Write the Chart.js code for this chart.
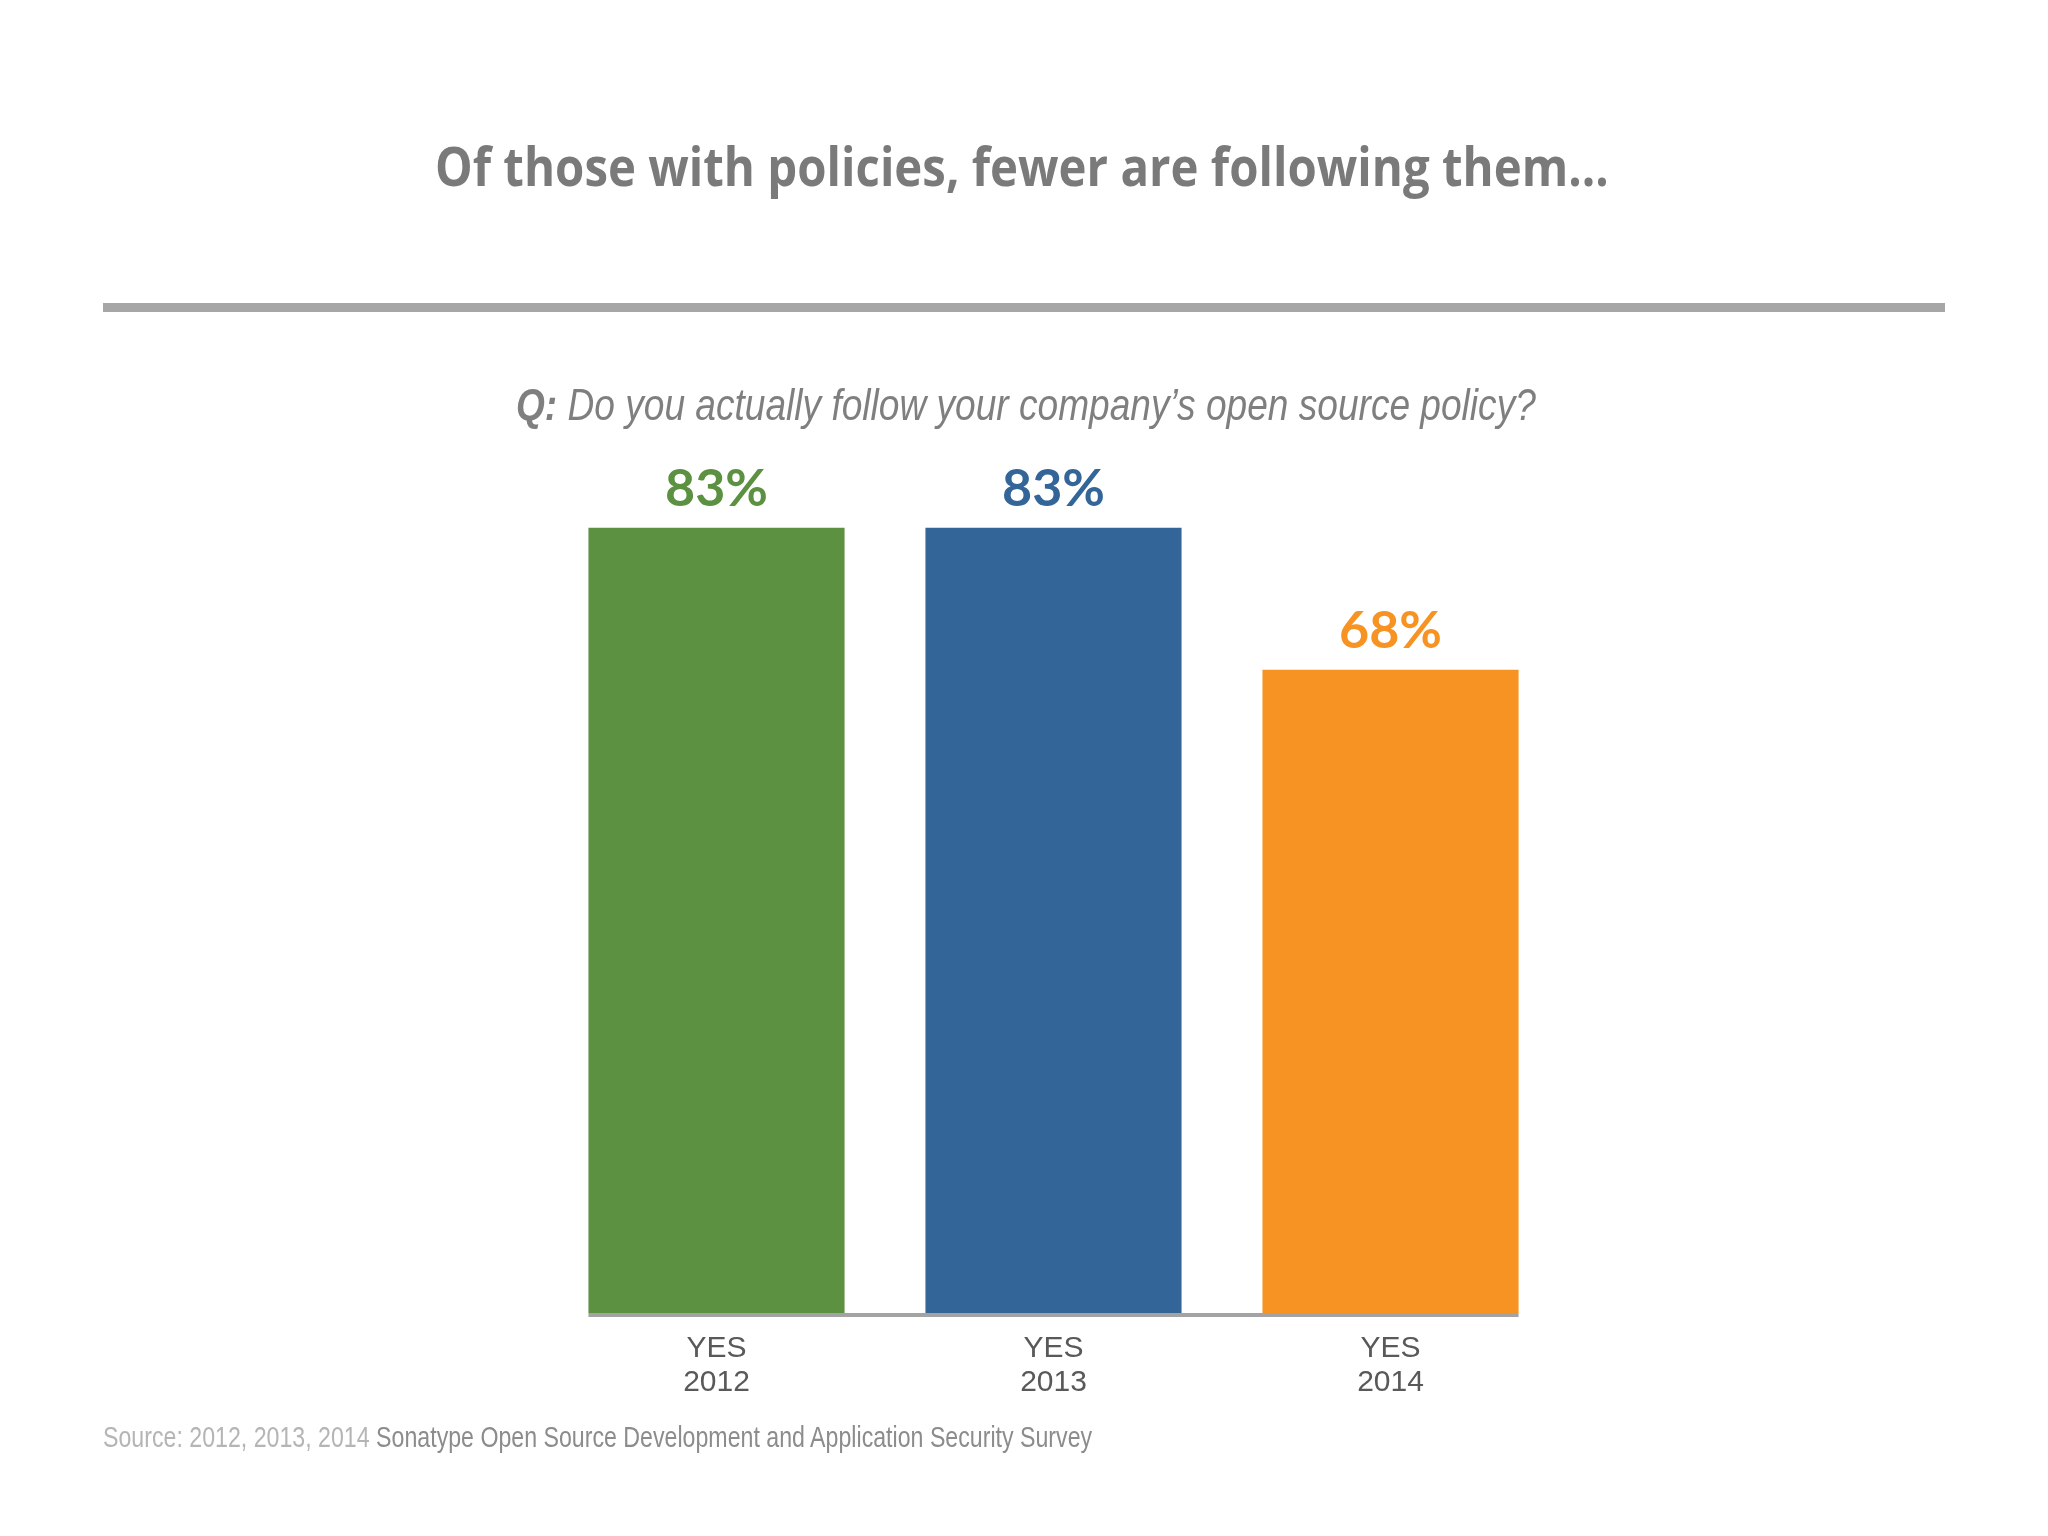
<!DOCTYPE html>
<html>
<head>
<meta charset="utf-8">
<script src="https://cdn.jsdelivr.net/npm/chart.js@4"></script>
<style>
  html, body { margin: 0; padding: 0; background: #fff; }
  #page { position: relative; width: 2048px; height: 1536px; overflow: hidden; }
  #chart { position: absolute; left: 0; top: 0; }
  .txt { position: absolute; white-space: nowrap; line-height: 1; }
  #title { font-family: "Open Sans", sans-serif; font-weight: 700; font-size: 54px; color: #7a7a7a; }
  #rule { position: absolute; left: 103px; top: 303px; width: 1842px; height: 9px; background: #a6a6a6; }
  #question { font-family: "Liberation Sans Narrow", "Liberation Sans", sans-serif; font-style: italic; font-size: 44px; color: #7f7f7f; }
  #question b { font-weight: 700; }
  #source { font-family: "Liberation Sans Narrow", "Liberation Sans", sans-serif; font-size: 29px; color: #8c8c8c; }
  #source span { color: #b5b5b5; }
</style>
</head>
<body>
<div id="page">
  <canvas id="chart"></canvas>
  <div class="txt" id="title">Of those with policies, fewer are following them…</div>
  <div id="rule"></div>
  <div class="txt" id="question"><b>Q:</b> Do you actually follow your company’s open source policy?</div>
  <div class="txt" id="source"><span>Source: 2012, 2013, 2014</span> Sonatype Open Source Development and Application Security Survey</div>
</div>
<script>
const categories = [["YES", "2012"], ["YES", "2013"], ["YES", "2014"]];
const values = [83, 83, 68];
const barColors = ["#5b9141", "#336598", "#f79322"];

// stretch a text element so it spans the width seen in the reference
function place(id, x, cy, width, centered) {
  const el = document.getElementById(id);
  const w = el.offsetWidth, h = el.offsetHeight;
  const s = width / w;
  el.style.transformOrigin = centered ? "50% 50%" : "0 50%";
  el.style.transform = "scaleX(" + s + ")";
  el.style.left = (centered ? x - w / 2 : x) + "px";
  el.style.top = (cy - h / 2) + "px";
}

const valueLabels = {
  id: "valueLabels",
  afterDatasetsDraw(chart) {
    const ctx = chart.ctx;
    const meta = chart.getDatasetMeta(0);
    ctx.save();
    ctx.font = "700 52px Lato, sans-serif";
    ctx.textAlign = "center";
    ctx.textBaseline = "alphabetic";
    meta.data.forEach((bar, i) => {
      ctx.fillStyle = barColors[i];
      ctx.fillText(values[i] + "%", bar.x, bar.y - 22);
    });
    // grey base line under the bars only
    const first = meta.data[0], last = meta.data[meta.data.length - 1];
    const y0 = chart.scales.y.getPixelForValue(0);
    ctx.fillStyle = "#a3a3a3";
    ctx.fillRect(first.x - first.width / 2, y0, (last.x + last.width / 2) - (first.x - first.width / 2), 4);
    ctx.restore();
  }
};

function draw() {
  new Chart(document.getElementById("chart"), {
    type: "bar",
    data: {
      labels: categories,
      datasets: [{
        data: values,
        backgroundColor: barColors,
        borderWidth: 0,
        categoryPercentage: 1,
        barPercentage: 0.76
      }]
    },
    options: {
      responsive: true,
      maintainAspectRatio: false,
      animation: false,
      layout: { padding: { left: 548, right: 489, top: 367, bottom: 0 } },
      plugins: { legend: { display: false }, tooltip: { enabled: false } },
      scales: {
        x: {
          grid: { display: false, drawTicks: false },
          border: { display: false },
          afterFit(scale) { scale.height = 223; },
          ticks: {
            color: "#595959",
            padding: 18,
            maxRotation: 0,
            font: { size: 30, family: "'Liberation Sans Narrow', 'Liberation Sans', sans-serif", lineHeight: 1.15 }
          }
        },
        y: { display: false, min: 0, max: 100 }
      }
    },
    plugins: [valueLabels]
  });

  place("title", 1022, 165, 1174, true);
  place("question", 1026, 405, 1020, true);
  place("source", 103, 1437, 989, false);
}

if (document.fonts && document.fonts.ready) document.fonts.ready.then(draw); else draw();
</script>
</body>
</html>
